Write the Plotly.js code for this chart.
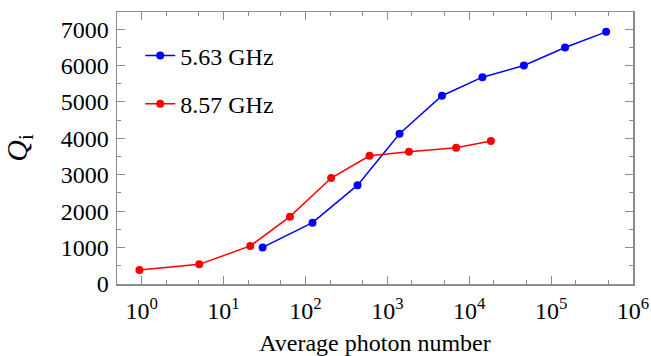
<!DOCTYPE html>
<html>
<head>
<meta charset="utf-8">
<script src="https://cdn.plot.ly/plotly-3.0.1.min.js"></script>
<style>html,body{margin:0;padding:0;background:#fff}#chart{width:651px;height:356px}</style>
</head>
<body>
<div id="chart"></div>
<script>
// 5.63 GHz series
const photonA = [30, 122, 433, 1410, 4650, 14500, 46500, 148000, 470000];
const qiA = [1005, 1685, 2715, 4125, 5170, 5680, 6000, 6495, 6925];
// 8.57 GHz series
const photonB = [0.94, 5.05, 21.2, 64.7, 206, 607, 1836, 6930, 18400];
const qiB = [385, 540, 1045, 1850, 2910, 3520, 3630, 3740, 3925];
const seriesNames = ["5.63 GHz", "8.57 GHz"];
const xTickVals = [1, 10, 100, 1000, 10000, 100000, 1000000];
const xTickText = ["10<sup>0</sup>", "10<sup>1</sup>", "10<sup>2</sup>", "10<sup>3</sup>", "10<sup>4</sup>", "10<sup>5</sup>", "10<sup>6</sup>"];
const yTickVals = [0, 1000, 2000, 3000, 4000, 5000, 6000, 7000];

const FAM = "'Liberation Serif', 'Times New Roman', serif";
const f = (s) => ({family: FAM, size: s, color: "#000"});
const axisColor = "#8c8c8c";

const traces = [
  {x: photonA, y: qiA, name: seriesNames[0], mode: "lines+markers", legendgroup: "a",
   line: {color: "#0000ff", width: 1.5}, marker: {color: "#0000ff", size: 8}},
  {x: photonB, y: qiB, name: seriesNames[1], mode: "lines+markers", legendgroup: "b",
   line: {color: "#ff0000", width: 1.5}, marker: {color: "#ff0000", size: 8}}
];

const layout = {
  width: 651, height: 356,
  margin: {l: 117, r: 18, t: 12, b: 72},
  paper_bgcolor: "#fff", plot_bgcolor: "#fff",
  font: f(24),
  showlegend: true,
  legend: {x: 0.045, y: 0.921, xanchor: "left", yanchor: "top", bgcolor: "rgba(0,0,0,0)",
           font: f(24), tracegroupgap: 14, traceorder: "grouped"},
  xaxis: {
    type: "log", range: [Math.log10(0.5), 6],
    tickvals: xTickVals, ticktext: xTickText,
    ticks: "inside", ticklen: 8, tickcolor: axisColor, tickwidth: 1,
    showline: true, linecolor: axisColor, linewidth: 1.5, mirror: "ticks",
    showgrid: false, zeroline: false,
    minor: {ticks: "inside", ticklen: 4, tickcolor: axisColor, showgrid: false},
    tickfont: f(24), ticklabelstandoff: 5,
    title: {text: "Average photon number", font: f(24), standoff: 11}
  },
  yaxis: {
    range: [0, 7470],
    tickvals: yTickVals,
    ticks: "inside", ticklen: 8, tickcolor: axisColor, tickwidth: 1,
    showline: true, linecolor: axisColor, linewidth: 1.5, mirror: "ticks",
    showgrid: false, zeroline: false,
    minor: {dtick: 500, tick0: 0, ticks: "inside", ticklen: 4, tickcolor: axisColor, showgrid: false},
    tickfont: f(24), ticklabelstandoff: 2,
    title: {text: "<i>Q</i><sub>i</sub>", font: f(30), standoff: 24}
  }
};

Plotly.newPlot("chart", traces, layout, {displayModeBar: false, staticPlot: true});
</script>
</body>
</html>
